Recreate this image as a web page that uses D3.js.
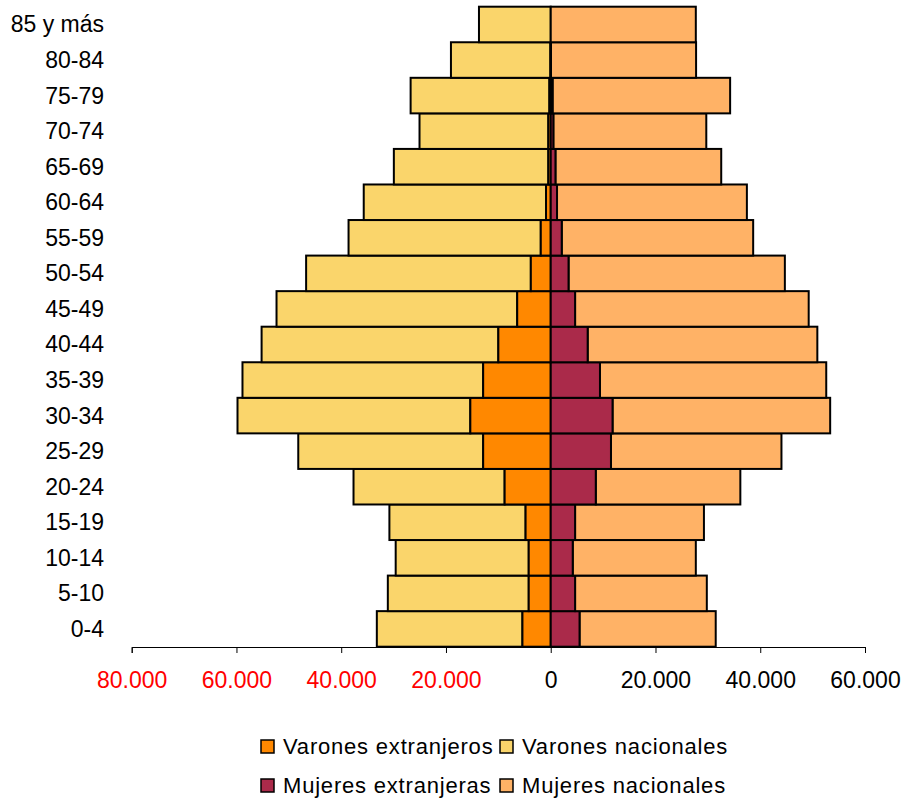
<!DOCTYPE html>
<html>
<head>
<meta charset="utf-8">
<title>Pirámide de población</title>
<script src="https://d3js.org/d3.v7.min.js"></script>
<style>
	body { margin: 0; background: #fff; }
	text { font-family: "Liberation Sans", Arial, sans-serif; }
</style>
</head>
<body>
<svg width="906" height="801"></svg>
<script>
// age groups, bottom to top
var ageGroups = ["0-4", "5-10", "10-14", "15-19", "20-24", "25-29", "30-34", "35-39", "40-44",
	"45-49", "50-54", "55-59", "60-64", "65-69", "70-74", "75-79", "80-84", "85 y más"];

var varonesExtranjeros = [5400, 4200, 4200, 4800, 8800, 12900, 15350, 12900, 10000,
	6400, 3800, 1900, 900, 450, 450, 250, 50, 0];
var varonesNacionales = [27800, 26900, 25400, 26000, 28850, 35300, 44450, 45950, 45200,
	45950, 42900, 36700, 34800, 29500, 24600, 26500, 19000, 13700];
var mujeresExtranjeras = [5500, 4650, 4200, 4650, 8600, 11500, 11800, 9400, 7050,
	4650, 3400, 2100, 1200, 900, 500, 350, 50, 0];
var mujeresNacionales = [26000, 25150, 23500, 24600, 27600, 32550, 41550, 43200, 43850,
	44600, 41300, 36550, 36250, 31650, 29200, 33900, 27700, 27700];

var tickValues = [-80000, -60000, -40000, -20000, 0, 20000, 40000, 60000];

var seriesNames = ["Varones extranjeros", "Varones nacionales", "Mujeres extranjeras", "Mujeres nacionales"];
var seriesColors = ["#FF8800", "#FAD56B", "#AA2A4A", "#FFB266"];

var svg = d3.select("svg");

var x = d3.scaleLinear().domain([-80000, 60000]).range([131.7, 865]);
var y = d3.scaleBand().domain(ageGroups).range([646.7, 6.7]).padding(0);

var rows = ageGroups.map(function(g, i) {
	return {
		group: g,
		segs: [
			{ s: 0, x0: 0, x1: -varonesExtranjeros[i] },
			{ s: 1, x0: -varonesExtranjeros[i], x1: -varonesExtranjeros[i] - varonesNacionales[i] },
			{ s: 2, x0: 0, x1: mujeresExtranjeras[i] },
			{ s: 3, x0: mujeresExtranjeras[i], x1: mujeresExtranjeras[i] + mujeresNacionales[i] }
		]
	};
});

var bars = svg.append("g");
var rowG = bars.selectAll("g.row")
	.data(rows)
	.enter().append("g")
	.attr("class", "row");

// nationals first, foreigners on top so the thin ones stay visible
rowG.selectAll("rect")
	.data(function(d) {
		return [d.segs[1], d.segs[3], d.segs[0], d.segs[2]].map(function(s) {
			return { s: s.s, x0: s.x0, x1: s.x1, group: d.group };
		});
	})
	.enter().append("rect")
	.attr("x", function(d) { return Math.min(x(d.x0), x(d.x1)); })
	.attr("width", function(d) { return Math.abs(x(d.x1) - x(d.x0)); })
	.attr("y", function(d) { return y(d.group); })
	.attr("height", y.bandwidth())
	.attr("fill", function(d) { return seriesColors[d.s]; })
	.attr("stroke", "#000")
	.attr("stroke-width", 2);

// category labels
svg.append("g").selectAll("text")
	.data(ageGroups)
	.enter().append("text")
	.attr("x", 104)
	.attr("y", function(d) { return y(d) + y.bandwidth() / 2 + 8; })
	.attr("text-anchor", "end")
	.attr("font-size", 23)
	.attr("fill", "#000")
	.text(function(d) { return d; });

// x axis
var es = d3.formatLocale({ decimal: ",", thousands: ".", grouping: [3], currency: ["", ""] });
var fmt = es.format(",d");

var xAxis = svg.append("g")
	.attr("transform", "translate(0,647)")
	.call(d3.axisBottom(x)
		.tickValues(tickValues)
		.tickSize(6)
		.tickSizeOuter(6)
		.tickPadding(19)
		.tickFormat(function(d) { return fmt(Math.abs(d)); }));

xAxis.select(".domain").attr("stroke", "#000").attr("stroke-width", 1);
xAxis.selectAll(".tick line").attr("stroke", "#000").attr("stroke-width", 1);
xAxis.selectAll(".tick text")
	.attr("font-size", 23)
	.attr("font-family", "'Liberation Sans', Arial, sans-serif")
	.attr("fill", function(d) { return d < 0 ? "#FF0000" : "#000"; });

// legend
var legendPos = [[261, 746], [261, 785], [500, 746], [500, 785]];
var legendOrder = [0, 2, 1, 3];

var legend = svg.append("g").selectAll("g")
	.data(legendOrder)
	.enter().append("g")
	.attr("transform", function(d, i) {
		return "translate(" + legendPos[i][0] + "," + legendPos[i][1] + ")";
	});

legend.append("rect")
	.attr("x", 0)
	.attr("y", -6)
	.attr("width", 13)
	.attr("height", 13)
	.attr("fill", function(d) { return seriesColors[d]; })
	.attr("stroke", "#000")
	.attr("stroke-width", 1.5);

legend.append("text")
	.attr("x", 22)
	.attr("y", 8)
	.attr("font-size", 22)
	.attr("letter-spacing", 0.8)
	.attr("fill", "#000")
	.text(function(d) { return seriesNames[d]; });
</script>
</body>
</html>
